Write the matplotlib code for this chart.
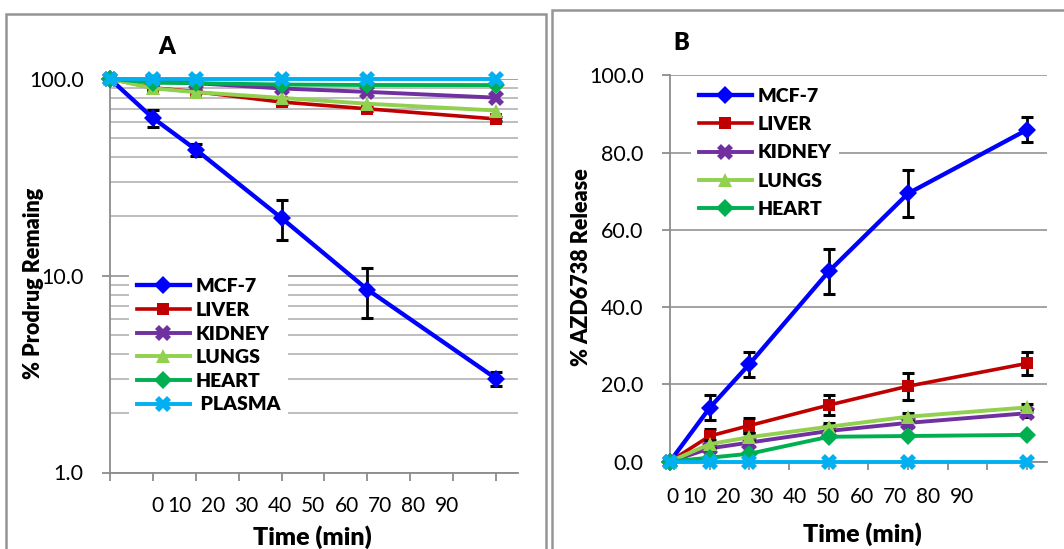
import matplotlib
matplotlib.use("Agg")
import matplotlib.pyplot as plt
from matplotlib.patches import Rectangle

plt.rcParams['font.family'] = ['Lato', 'DejaVu Sans']

# ---------------- data ----------------
time_min = [0, 10, 20, 40, 60, 90]
series_names = ["MCF-7", "LIVER", "KIDNEY", "LUNGS", "HEART", " PLASMA"]
time_tick_labels = ["0", "10", "20", "30", "40", "50", "60", "70", "80", "90"]

# Panel A: % prodrug remaining (log scale)
remain_mcf7 = [100, 63.2, 43.7, 19.6, 8.5, 3.0]
remain_mcf7_err = [0, 6.0, 3.0, 4.5, 2.4, 0.25]
remain_liver = [100, 90.0, 86.0, 76.2, 70.4, 62.5]
remain_liver_err = [0, 1.5, 1.5, 2.0, 2.0, 1.5]
remain_kidney = [100, 98.6, 95.0, 89.3, 85.8, 80.2]
remain_lungs = [100, 89.5, 85.5, 80.0, 74.7, 69.0]
remain_heart = [100, 95.5, 95.0, 93.5, 93.0, 92.9]
remain_plasma = [100, 100, 100, 100, 100, 100]

# Panel B: % AZD6738 release
release_mcf7 = [0, 13.9, 25.2, 49.2, 69.4, 85.9]
release_mcf7_err = [0, 3.2, 3.2, 5.8, 6.0, 3.2]
release_liver = [0, 6.6, 9.3, 14.6, 19.5, 25.4]
release_liver_err = [0, 1.9, 2.0, 2.6, 3.5, 3.0]
release_kidney = [0, 3.4, 4.9, 7.9, 10.0, 12.5]
release_kidney_err = [0, 1.0, 1.0, 1.0, 1.0, 1.0]
release_lungs = [0, 4.5, 6.3, 9.0, 11.6, 14.0]
release_lungs_err = [0, 1.0, 1.0, 1.0, 1.0, 1.0]
release_heart = [0, 1.0, 2.0, 6.4, 6.6, 6.9]
release_plasma = [0, 0, 0, 0, 0, 0]

# ---------------- style ----------------
colors = ["#0000FF", "#C00000", "#7030A0", "#92D050", "#00B050", "#00B0F0"]
markers = ["D", "s", "X", "^", "D", "X"]
msizes = [9, 9, 11, 10, 9, 11]
lwidths = [3.1, 2.6, 2.8, 2.8, 2.8, 2.8]
axis_gray = "#8c8c8c"
grid_major = "#9c9c9c"
grid_minor = "#b9b9b9"
HEAVY = 800

W, H = 1064, 549
fig = plt.figure(figsize=(W / 100, H / 100), dpi=100)


def px_axes(left, top, right, bottom):
    return fig.add_axes([left / W, 1 - bottom / H, (right - left) / W, (bottom - top) / H])


def fx(x):
    return x / W


def fy(y):
    return 1 - y / H


# panel frames
fig.patches.append(Rectangle((fx(6), fy(560)), fx(546 - 6), fy(14) - fy(560),
                             transform=fig.transFigure, fill=False,
                             edgecolor="#959595", lw=1.8))
fig.patches.append(Rectangle((fx(552), fy(560)), fx(1080 - 552), fy(10) - fy(560),
                             transform=fig.transFigure, fill=False,
                             edgecolor="#959595", lw=1.8))


def style_axes(ax):
    for s in ("top", "right"):
        ax.spines[s].set_visible(False)
    for s in ("left", "bottom"):
        ax.spines[s].set_color(axis_gray)
        ax.spines[s].set_linewidth(1.3)
    ax.set_xlim(0, 95)
    ax.set_xticks(range(0, 100, 10))
    ax.set_xticklabels([])
    ax.tick_params(axis="x", direction="out", length=6, width=1.3, color=axis_gray)
    ax.tick_params(axis="y", which="major", direction="out", length=6, width=1.3,
                   color=axis_gray, labelsize=15.5, pad=13)
    ax.tick_params(axis="y", which="minor", length=0)
    ax.set_axisbelow(True)


def draw_series(ax, values, errs):
    handles = []
    for i, name in enumerate(series_names):
        err = errs[i]
        if err is not None:
            cont = ax.errorbar(time_min, values[i], yerr=err, color=colors[i],
                               marker=markers[i], ms=msizes[i], lw=lwidths[i],
                               ecolor="black", elinewidth=2.0, capsize=4.5, capthick=2.2,
                               clip_on=False, zorder=3 + i)
            line = cont.lines[0]
            for art in list(cont.lines[1]) + list(cont.lines[2]):
                art.set_clip_on(False)
        else:
            line, = ax.plot(time_min, values[i], color=colors[i], marker=markers[i],
                            ms=msizes[i], lw=lwidths[i], clip_on=False, zorder=3 + i)
        line.set_markeredgewidth(0)
        handles.append(line)
    return handles


def draw_time_labels(x0, yc):
    fig.text(fx(x0), fy(yc), time_tick_labels[0], ha="center", va="center", fontsize=15)
    for k, lab in enumerate(time_tick_labels[1:]):
        fig.text(fx(x0 + 22.7 + 33.4 * k), fy(yc), lab, ha="center", va="center", fontsize=15)


def make_legend(ax, handles, labels, left, top, spacing):
    leg = ax.legend(handles=handles, labels=labels, loc="upper left",
                    bbox_to_anchor=(fx(left), fy(top)), bbox_transform=fig.transFigure,
                    borderaxespad=0, borderpad=0.4, handlelength=2.73, handletextpad=0.3,
                    labelspacing=spacing, numpoints=1, frameon=True, fancybox=False,
                    prop={"weight": HEAVY, "size": 14})
    leg.get_frame().set_facecolor("white")
    leg.get_frame().set_edgecolor("none")
    leg.get_frame().set_alpha(1)
    leg.set_zorder(2)
    return leg


# ---------------- panel A ----------------
axA = px_axes(110, 78.8, 110 + 95 * 4.29, 472.5)
axA.set_yscale("log")
axA.set_ylim(1, 100)
style_axes(axA)
axA.set_yticks([1, 10, 100])
axA.set_yticklabels(["1.0", "10.0", "100.0"])
axA.yaxis.grid(True, which="major", color=grid_major, lw=1.3)
axA.yaxis.grid(True, which="minor", color=grid_minor, lw=1.3)

hA = draw_series(axA,
                 [remain_mcf7, remain_liver, remain_kidney, remain_lungs, remain_heart, remain_plasma],
                 [remain_mcf7_err, remain_liver_err, None, None, None, None])
make_legend(axA, hA, series_names, 129, 270.5, 0.34)

fig.text(fx(167), fy(47), "A", ha="center", va="center", fontsize=17, fontweight=HEAVY)
fig.text(fx(34), fy(283), "% Prodrug Remaing", ha="center", va="center", rotation=90,
         fontsize=15.5, fontweight=HEAVY)
draw_time_labels(157, 506)
fig.text(fx(312), fy(537), "Time (min)", ha="center", va="center", fontsize=18, fontweight=HEAVY)

# ---------------- panel B ----------------
axB = px_axes(670, 75.3, 670 + 95 * 3.967, 461.5)
axB.set_ylim(0, 100)
style_axes(axB)
axB.set_yticks([0, 20, 40, 60, 80, 100])
axB.set_yticklabels(["0.0", "20.0", "40.0", "60.0", "80.0", "100.0"])
axB.yaxis.grid(True, which="major", color=grid_major, lw=1.3)

hB = draw_series(axB,
                 [release_mcf7, release_liver, release_kidney, release_lungs, release_heart, release_plasma],
                 [release_mcf7_err, release_liver_err, release_kidney_err, release_lungs_err, None, None])
make_legend(axB, hB[:5], series_names[:5], 691, 80, 0.58)

fig.text(fx(681), fy(43), "B", ha="center", va="center", fontsize=17, fontweight=HEAVY)
fig.text(fx(581), fy(267), "% AZD6738 Release", ha="center", va="center", rotation=90,
         fontsize=15.5, fontweight=HEAVY)
draw_time_labels(672, 497)
fig.text(fx(862), fy(534), "Time (min)", ha="center", va="center", fontsize=18, fontweight=HEAVY)

fig.savefig("out.png", dpi=100)
